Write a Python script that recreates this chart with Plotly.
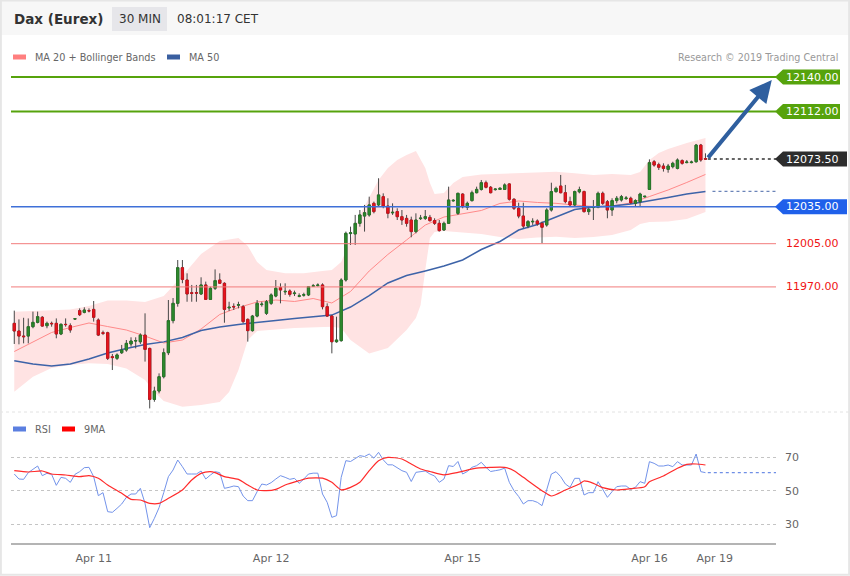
import plotly.graph_objects as go

# ---------------- data ----------------
opens = [11940.5, 11934.3, 11930.2, 11930.2, 11937.8, 11941.3, 11945.4, 11938.6, 11940.5, 11940.5,
         11931.9, 11939.7, 11938.6, 11944.0, 11950.8, 11949.4, 11950.8, 11951.8, 11943.2, 11932.9,
         11932.9, 11913.5, 11912.2, 11916.7, 11918.9, 11923.8, 11926.2, 11925.6, 11931.0, 11920.2,
         11878.9, 11885.7, 11897.3, 11916.7, 11942.7, 11956.7, 11985.6, 11975.6, 11965.3, 11965.3,
         11964.3, 11971.6, 11959.9, 11968.9, 11975.6, 11972.9, 11953.0, 11954.2, 11955.2, 11954.0,
         11943.7, 11934.6, 11946.4, 11955.7, 11948.6, 11956.7, 11962.6, 11969.4, 11966.0, 11966.7,
         11964.6, 11962.4, 11963.3, 11963.5, 11970.5, 11971.1, 11971.6, 11954.0, 11946.4, 11925.6,
         11926.5, 11975.6, 12013.2, 12012.9, 12021.5, 12027.4, 12028.3, 12037.7, 12036.4, 12043.1,
         12035.5, 12030.0, 12031.0, 12026.9, 12025.5, 12024.2, 12014.8, 12025.3, 12025.5, 12026.3,
         12023.7, 12021.5, 12016.1, 12021.5, 12039.7, 12029.6, 12045.2, 12034.5, 12039.9, 12046.3,
         12049.0, 12054.4, 12050.7, 12048.8, 12049.0, 12049.0, 12053.4, 12041.0, 12033.7, 12027.4,
         12019.3, 12022.7, 12023.4, 12021.5, 12020.2, 12032.3, 12047.2, 12051.7, 12046.3, 12039.1,
         12036.4, 12047.0, 12047.2, 12031.0, 12034.3, 12034.5, 12045.8, 12039.0, 12032.3, 12039.9,
         12040.4, 12041.6, 12041.8, 12037.7, 12039.0, 12043.0, 12049.0, 12071.4, 12069.0, 12067.9,
         12065.2, 12067.4, 12066.0, 12072.3, 12070.7, 12070.7, 12071.4, 12084.9, 12073.9]
highs = [11950.8, 11943.7, 11945.0, 11944.5, 11950.0, 11950.0, 11946.4, 11941.9, 11941.9, 11944.5,
         11940.5, 11944.5, 11940.5, 11944.5, 11952.6, 11953.5, 11952.6, 11958.6, 11944.5, 11934.6,
         11933.7, 11915.7, 11916.2, 11923.0, 11927.0, 11929.2, 11929.2, 11932.4, 11948.6, 11920.8,
         11889.2, 11900.0, 11920.2, 11959.4, 11961.0, 11991.8, 11991.8, 11981.0, 11971.6, 11971.6,
         11977.8, 11974.3, 11970.2, 11984.2, 11981.0, 11973.8, 11958.0, 11956.7, 11958.0, 11955.4,
         11944.5, 11947.3, 11959.4, 11958.0, 11959.4, 11964.8, 11975.6, 11972.9, 11972.9, 11968.0,
         11967.0, 11964.8, 11965.3, 11970.7, 11972.4, 11972.9, 11972.9, 11956.7, 11947.3, 11945.9,
         11977.0, 12014.8, 12018.8, 12028.3, 12032.3, 12036.4, 12043.1, 12039.1, 12058.0, 12045.8,
         12041.8, 12037.7, 12033.7, 12032.3, 12028.3, 12026.9, 12029.6, 12028.3, 12032.3, 12028.3,
         12025.6, 12024.2, 12022.9, 12051.2, 12041.0, 12046.3, 12045.8, 12039.1, 12048.0, 12051.2,
         12056.6, 12056.1, 12051.7, 12049.8, 12050.7, 12053.9, 12053.9, 12041.8, 12038.2, 12038.2,
         12024.2, 12025.6, 12024.7, 12022.9, 12033.7, 12054.4, 12051.2, 12060.7, 12052.6, 12043.1,
         12048.0, 12051.2, 12048.0, 12035.0, 12040.4, 12047.2, 12047.2, 12040.4, 12041.8, 12043.6,
         12044.5, 12043.6, 12043.1, 12041.0, 12046.3, 12043.6, 12073.3, 12072.8, 12070.6, 12070.1,
         12069.6, 12071.4, 12074.1, 12073.3, 12072.8, 12072.3, 12085.8, 12085.8, 12078.2]
lows = [11923.8, 11923.5, 11924.3, 11924.3, 11936.5, 11940.5, 11937.8, 11936.5, 11937.8, 11928.4,
        11931.0, 11937.8, 11932.9, 11943.5, 11946.4, 11948.6, 11949.4, 11941.9, 11930.2, 11931.0,
        11910.8, 11902.7, 11910.8, 11915.7, 11917.5, 11921.6, 11920.2, 11923.8, 11909.5, 11871.6,
        11877.0, 11883.8, 11895.9, 11914.8, 11940.5, 11954.0, 11973.0, 11958.0, 11958.0, 11958.0,
        11963.5, 11959.4, 11959.4, 11967.5, 11972.5, 11941.0, 11950.5, 11951.3, 11952.6, 11940.5,
        11925.7, 11933.8, 11945.4, 11954.0, 11947.3, 11955.4, 11961.6, 11956.7, 11963.5, 11962.1,
        11962.6, 11961.6, 11962.1, 11962.6, 11970.2, 11970.2, 11951.8, 11945.9, 11916.2, 11924.8,
        11925.6, 11974.3, 12004.0, 12004.0, 12018.8, 12014.8, 12026.9, 12029.6, 12035.0, 12033.7,
        12025.6, 12028.3, 12024.2, 12020.2, 12018.8, 12010.2, 12013.4, 12024.2, 12024.2, 12022.9,
        12020.2, 12014.8, 12015.6, 12021.0, 12039.1, 12028.3, 12033.7, 12032.3, 12039.1, 12045.8,
        12048.0, 12049.8, 12045.8, 12048.0, 12048.5, 12048.5, 12039.9, 12032.3, 12025.6, 12017.5,
        12017.5, 12020.2, 12019.6, 12005.3, 12018.8, 12031.0, 12046.3, 12045.8, 12037.7, 12035.0,
        12035.0, 12045.8, 12030.2, 12028.3, 12024.2, 12033.7, 12036.4, 12025.6, 12027.5, 12037.7,
        12039.1, 12040.4, 12037.2, 12035.5, 12035.0, 12042.3, 12048.5, 12067.4, 12064.7, 12063.4,
        12062.5, 12066.0, 12065.2, 12069.0, 12070.1, 12070.1, 12070.6, 12071.4, 12072.8]
closes = [11934.3, 11930.2, 11929.7, 11937.8, 11941.3, 11945.9, 11938.3, 11940.5, 11940.2, 11931.9,
          11939.7, 11939.5, 11935.1, 11944.2, 11947.5, 11951.3, 11950.6, 11945.4, 11931.0, 11932.4,
          11912.2, 11912.8, 11914.9, 11918.9, 11924.3, 11926.2, 11926.5, 11931.0, 11919.4, 11878.9,
          11885.7, 11897.3, 11916.7, 11942.7, 11956.7, 11985.6, 11976.1, 11964.3, 11964.8, 11965.0,
          11971.6, 11959.9, 11968.9, 11975.1, 11973.0, 11951.8, 11953.5, 11953.8, 11955.6, 11941.9,
          11934.6, 11946.4, 11956.7, 11956.0, 11958.0, 11963.5, 11968.9, 11967.5, 11966.4, 11964.0,
          11965.0, 11962.8, 11963.7, 11970.2, 11970.9, 11971.5, 11954.0, 11946.4, 11925.6, 11927.0,
          11975.6, 12013.4, 12013.8, 12021.5, 12028.3, 12030.1, 12036.4, 12031.0, 12044.5, 12035.5,
          12029.6, 12030.4, 12026.9, 12024.2, 12021.5, 12014.8, 12024.2, 12025.7, 12026.9, 12023.7,
          12021.5, 12015.6, 12021.5, 12040.4, 12040.1, 12045.8, 12035.0, 12037.7, 12046.3, 12049.0,
          12054.4, 12050.7, 12046.3, 12049.2, 12049.8, 12052.6, 12041.0, 12033.7, 12027.4, 12019.3,
          12022.9, 12023.1, 12021.0, 12018.3, 12032.3, 12047.2, 12049.8, 12046.3, 12039.1, 12036.4,
          12047.2, 12048.8, 12031.0, 12032.8, 12034.7, 12045.8, 12037.7, 12032.3, 12039.9, 12041.8,
          12043.1, 12042.0, 12038.2, 12039.9, 12045.2, 12043.4, 12070.6, 12068.7, 12066.9, 12066.0,
          12067.9, 12070.1, 12072.8, 12070.1, 12071.1, 12071.1, 12084.9, 12072.8, 12073.5]

# moving averages sampled every 4 bars
ma_idx = list(range(0, 149, 4))
ma20 = [11917.7, 11925.6, 11933.1, 11937.1, 11940.8, 11937.9, 11935.1, 11930.2, 11924.6, 11927.0,
        11935.9, 11947.7, 11953.3, 11957.8, 11959.4, 11958.2, 11960.6, 11957.0, 11966.3, 11982.9,
        11996.3, 12008.0, 12020.1, 12026.6, 12029.1, 12031.9, 12037.6, 12039.6, 12038.4, 12037.7,
        12036.3, 12035.1, 12035.5, 12038.0, 12043.2, 12048.5, 12054.6, 12061.1]
ma50 = [11910.2, 11907.6, 11905.9, 11907.6, 11911.6, 11916.5, 11920.1, 11923.4, 11925.5, 11929.0,
        11934.7, 11937.5, 11939.6, 11940.9, 11942.8, 11944.4, 11946.0, 11947.2, 11953.7, 11963.0,
        11973.2, 11979.2, 11982.9, 11986.9, 11991.8, 12000.3, 12006.8, 12016.1, 12020.6, 12026.6,
        12032.7, 12034.7, 12035.5, 12037.2, 12039.6, 12042.4, 12045.3, 12047.3]

bb_up_idx = [0, 4, 8, 12, 16, 20, 24, 28, 32, 36, 40, 44, 48, 50, 52, 54, 58, 62, 66, 68,
             70, 72, 74, 76, 78, 80, 82, 84, 86, 88, 89, 90, 92, 94, 96, 100, 104, 108, 112, 116,
             120, 124, 128, 132, 134, 136, 138, 140, 144, 148]
bb_up = [11949.9, 11950.7, 11951.3, 11951.7, 11954.5, 11959.0, 11959.0, 11957.8, 11962.6, 11978.8,
         11996.7, 12007.2, 12009.6, 12003.1, 11990.2, 11983.7, 11981.0, 11981.0, 11982.9, 11983.7,
         11990.2, 12008.0, 12028.2, 12042.0, 12056.6, 12066.3, 12072.8, 12076.8, 12080.1, 12066.3,
         12054.2, 12045.3, 12046.1, 12054.2, 12059.0, 12061.1, 12061.5, 12062.0, 12062.5, 12063.3,
         12062.0, 12060.6, 12061.5, 12060.6, 12063.1, 12072.8, 12078.5, 12081.7, 12086.6, 12090.6]
bb_lo_idx = [0, 4, 8, 12, 16, 20, 24, 28, 30, 32, 36, 40, 44, 46, 48, 50, 52, 56, 60, 64,
             68, 70, 72, 76, 80, 84, 86, 87, 88, 89, 90, 92, 96, 100, 104, 108, 112, 116, 120, 124,
             128, 132, 134, 136, 140, 144, 148]
bb_lo = [11885.1, 11897.3, 11904.3, 11906.7, 11908.1, 11907.6, 11903.9, 11894.6, 11884.9, 11877.6,
         11873.0, 11874.3, 11876.8, 11884.9, 11902.7, 11927.0, 11934.3, 11935.5, 11936.7, 11937.5,
         11937.8, 11936.7, 11927.0, 11916.1, 11920.5, 11935.1, 11944.8, 11955.3, 11983.7, 12009.6,
         12014.5, 12015.3, 12014.1, 12012.9, 12010.4, 12008.8, 12010.0, 12010.7, 12009.6, 12010.4,
         12012.0, 12016.1, 12021.0, 12022.6, 12023.0, 12025.0, 12030.7]

rsi = [60, 57, 56.8, 60.8, 62.8, 64.8, 59, 60.4, 59.8, 53.2, 58, 57.4, 55, 59.8, 61.4, 63.8, 64,
       58.4, 47, 48.8, 37.4, 37, 39.4, 42, 46, 48, 48, 51.4, 42.4, 27.8, 33.4, 39.8, 48.8, 58.4,
       62.4, 68.4, 64.4, 60, 60, 60, 61.8, 57, 59.4, 61.4, 60.8, 51.4, 52, 52.8, 52.4, 46.8, 44,
       44, 49.4, 54, 53.4, 54.8, 57, 59, 58, 56.8, 57.4, 54.4,
       57, 60, 60.5, 60.5, 48, 43, 34, 35, 58, 68, 67.5, 69.5, 71, 70.5, 72, 69.5, 73, 68.5,
       65.5, 65.5, 63.5, 62, 61, 55.5, 61, 61.5, 61.8, 60, 58.8, 55, 57, 65, 64.5, 67.5, 60,
       61.5, 64, 65, 67, 64, 61.5, 62, 62.5, 63.5, 55, 50, 46.5, 42, 44, 44, 43, 41, 51,
       60, 61.4, 58.4, 54, 52, 57.4, 57.4, 47.4, 48.8, 48.8, 55.4, 50.8, 46, 49.4, 52.4, 52.8,
       52.8, 50.8, 52, 55.4, 54.4, 67.4, 66.4, 64.8, 64.8, 65.4, 64.4, 67.4, 65.4, 65.4, 65.4,
       72, 61.4, 60.8]
ma9_idx = [0, 3, 6, 8, 11, 14, 16, 18, 20, 23, 25, 27, 29, 31, 33, 36, 38, 40, 42, 43,
           45, 48, 50, 52, 54, 56, 58, 61, 63, 66, 68, 70, 72, 74, 76, 78, 80, 83, 85, 87,
           89, 92, 95, 99, 102, 105, 107, 109, 113, 115, 118, 121, 122, 124, 126, 129, 132, 135, 136, 139,
           142, 144, 146, 148]
ma9 = [62, 61.2, 61.8, 60, 59.4, 58.4, 59, 57.4, 53.4, 48.4, 44.8, 44.4, 42.4, 42.4, 45.4, 50.4,
       56.4, 60.4, 61.4, 60.8, 58.4, 56.8, 53.4, 50.4, 50, 50.8, 53.4, 56, 57.5, 57.5, 55, 50.5,
       52, 55, 62, 68, 70, 69, 66, 63, 61.5, 59.5, 61, 63.5, 64, 64, 62, 58, 50, 46.8, 50.4, 54,
       55.8, 54.4, 51.8, 50.4, 51.2, 52.4, 55.4, 58.8, 63.4, 65.8, 66, 65.4]

green_levels = [12140, 12112]
blue_level = 12035
red_levels = [12005, 11970]
last_price = 12073.5
target_price = 12140
tick_idx = [17, 55, 96, 136, 150]
tick_text = ["Apr 11", "Apr 12", "Apr 15", "Apr 16", "Apr 19"]

# ---------------- layout geometry (pixels) ----------------
W, H = 850, 576
PL, PR = 11, 776
MAIN_TOP, MAIN_BOT = 68, 412
RSI_TOP, RSI_BOT = 440, 543
X_RANGE = [-0.7, 163.1]
Y_RANGE = [11868.7, 12147.3]
RSI_RANGE = [18.6, 80.4]
PPX = (Y_RANGE[1] - Y_RANGE[0]) / (MAIN_BOT - MAIN_TOP)  # price per pixel
FONT = "DejaVu Sans"
GREEN_C, RED_C, WICK_C = "#2e8b2e", "#e8141c", "#474747"

def px(x):
    return x / W

def py(y):
    return 1 - y / H

N = len(closes)
idx = list(range(N))
body_hi = [max(o, c) for o, c in zip(opens, closes)]
body_lo = [min(o, c) for o, c in zip(opens, closes)]

fig = go.Figure()

# Bollinger band fill + moving averages (base price axis, drawn underneath)
fig.add_trace(go.Scatter(
    x=bb_up_idx + bb_lo_idx[::-1], y=bb_up + bb_lo[::-1],
    fill="toself", fillcolor="#ffe3e3", line=dict(width=0), mode="lines",
    hoverinfo="skip", showlegend=False, xaxis="x", yaxis="y"))
fig.add_trace(go.Scatter(x=ma_idx, y=ma20, mode="lines",
                         line=dict(color="#ff8a8a", width=1), showlegend=False,
                         xaxis="x", yaxis="y"))
fig.add_trace(go.Scatter(x=ma_idx, y=ma50, mode="lines",
                         line=dict(color="#3d63a8", width=1.5), showlegend=False,
                         xaxis="x", yaxis="y"))
# candles: wicks layer, then coloured bodies on top (overlaying axes)
fig.add_trace(go.Candlestick(
    x=idx, open=opens, high=highs, low=lows, close=closes,
    increasing=dict(fillcolor=GREEN_C, line=dict(color=WICK_C, width=1)),
    decreasing=dict(fillcolor=RED_C, line=dict(color=WICK_C, width=1)),
    whiskerwidth=0, showlegend=False, xaxis="x", yaxis="y3"))
fig.add_trace(go.Candlestick(
    x=idx, open=opens, high=body_hi, low=body_lo, close=closes,
    increasing=dict(fillcolor=GREEN_C, line=dict(color="#267a26", width=0.8)),
    decreasing=dict(fillcolor=RED_C, line=dict(color="#d0101a", width=0.8)),
    whiskerwidth=0, showlegend=False, xaxis="x", yaxis="y4"))

# RSI panel
fig.add_trace(go.Scatter(x=idx, y=rsi, mode="lines",
                         line=dict(color="#7393ea", width=1), showlegend=False,
                         xaxis="x2", yaxis="y2"))
fig.add_trace(go.Scatter(x=ma9_idx, y=ma9, mode="lines",
                         line=dict(color="#ff2b2b", width=1.2, shape="spline", smoothing=0.6),
                         showlegend=False, xaxis="x2", yaxis="y2"))

shapes = []
annotations = []

# frame / header
shapes.append(dict(type="rect", xref="paper", yref="paper", x0=0, x1=1, y0=py(35), y1=1,
                   fillcolor="#f7f7f7", line=dict(width=0), layer="below"))
shapes.append(dict(type="rect", xref="paper", yref="paper", x0=px(112), x1=px(167),
                   y0=py(31), y1=py(7), fillcolor="#e6e6ea", line=dict(width=0), layer="below"))
shapes.append(dict(type="line", xref="paper", yref="paper", x0=0, x1=1, y0=py(412), y1=py(412),
                   line=dict(color="#e2e2e2", width=1, dash="dot")))
shapes.append(dict(type="rect", xref="paper", yref="paper", x0=0.001, x1=0.999, y0=0.002, y1=0.999,
                   line=dict(color="#e6e6e6", width=2)))

annotations += [
    dict(text="<b>Dax (Eurex)</b>", x=px(12), y=py(18.5), xref="paper", yref="paper",
         xanchor="left", yanchor="middle", showarrow=False, font=dict(family=FONT, size=13.5, color="#333")),
    dict(text="30 MIN", x=px(139.5), y=py(19), xref="paper", yref="paper",
         xanchor="center", yanchor="middle", showarrow=False, font=dict(family=FONT, size=12, color="#333")),
    dict(text="08:01:17 CET", x=px(175), y=py(19), xref="paper", yref="paper",
         xanchor="left", yanchor="middle", showarrow=False, font=dict(family=FONT, size=12, color="#333")),
    dict(text="MA 20 + Bollinger Bands", x=px(33), y=py(57), xref="paper", yref="paper",
         xanchor="left", yanchor="middle", showarrow=False, font=dict(family=FONT, size=9.7, color="#666")),
    dict(text="MA 50", x=px(187), y=py(57), xref="paper", yref="paper",
         xanchor="left", yanchor="middle", showarrow=False, font=dict(family=FONT, size=9.7, color="#666")),
    dict(text="Research © 2019 Trading Central", x=px(840), y=py(57), xref="paper", yref="paper",
         xanchor="right", yanchor="middle", showarrow=False, font=dict(family=FONT, size=9.6, color="#999")),
    dict(text="RSI", x=px(33), y=py(429), xref="paper", yref="paper",
         xanchor="left", yanchor="middle", showarrow=False, font=dict(family=FONT, size=9.7, color="#666")),
    dict(text="9MA", x=px(82), y=py(429), xref="paper", yref="paper",
         xanchor="left", yanchor="middle", showarrow=False, font=dict(family=FONT, size=9.7, color="#666")),
]
for (x0, x1, yc, col) in [(13, 26, 57, "#ff7f7f"), (167, 180, 57, "#3a5fa0"),
                          (13, 26, 429, "#5b7fe0"), (62, 75, 429, "#ff0000")]:
    shapes.append(dict(type="rect", xref="paper", yref="paper", x0=px(x0), x1=px(x1),
                       y0=py(yc + 2.5), y1=py(yc - 2.5), fillcolor=col, line=dict(width=0)))

def flag(price, color, right):
    h = 7.5 * PPX
    path = (f"M {px(775)},{price} L {px(783)},{price + h} L {px(right)},{price + h} "
            f"L {px(right)},{price - h} L {px(783)},{price - h} Z")
    shapes.append(dict(type="path", xref="paper", yref="y", path=path,
                       fillcolor=color, line=dict(width=0)))

def label(price, text, color):
    annotations.append(dict(text=text, x=px(812), y=price, xref="paper", yref="y",
                            xanchor="center", yanchor="middle", showarrow=False,
                            font=dict(family=FONT, size=11, color=color)))

for lv in green_levels:
    shapes.append(dict(type="line", xref="paper", yref="y", x0=px(PL), x1=px(776), y0=lv, y1=lv,
                       line=dict(color="#56a30c", width=2)))
    flag(lv, "#56a30c", 840)
    label(lv, f"{lv:.2f}", "white")

shapes.append(dict(type="line", xref="paper", yref="y", x0=px(PL), x1=px(776),
                   y0=blue_level, y1=blue_level, line=dict(color="#3f70d8", width=1.5)))
flag(blue_level, "#1f60ea", 847)
label(blue_level, f"{blue_level:.2f}", "white")

for lv in red_levels:
    shapes.append(dict(type="line", xref="paper", yref="y", x0=px(PL), x1=px(776), y0=lv, y1=lv,
                       line=dict(color="#f27c7c", width=1)))
    label(lv, f"{lv:.2f}", "#f01414")

# last price dotted + label
shapes.append(dict(type="line", xref="x", yref="y", x0=N - 0.5, x1=X_RANGE[1], y0=last_price,
                   y1=last_price, line=dict(color="#333", width=1.5, dash="dot")))
flag(last_price, "#2d2d2d", 847)
label(last_price, f"{last_price:.2f}", "white")

# MA50 projection (dotted)
shapes.append(dict(type="line", xref="x", yref="y", x0=N + 0.5, x1=X_RANGE[1], y0=ma50[-1],
                   y1=ma50[-1], line=dict(color="#6b84b8", width=1.2, dash="dot")))
# RSI projection (dotted)
shapes.append(dict(type="line", xref="x2", yref="y2", x0=N - 0.5, x1=X_RANGE[1], y0=rsi[-1],
                   y1=rsi[-1], line=dict(color="#6f8fe6", width=1.2, dash="dot")))

# target arrow
annotations.append(dict(x=162.2, y=target_price - 2.5, xref="x", yref="y",
                        ax=N - 0.7, ay=last_price, axref="x", ayref="y",
                        text="", showarrow=True, arrowhead=2, arrowsize=1.1,
                        arrowwidth=4, arrowcolor="#2f5f9f"))

fig.update_layout(
    width=W, height=H, template="none",
    margin=dict(l=0, r=0, t=0, b=0),
    paper_bgcolor="white", plot_bgcolor="rgba(0,0,0,0)",
    showlegend=False, hovermode=False,
    font=dict(family=FONT, color="#666"),
    xaxis=dict(domain=[px(PL), px(PR)], range=X_RANGE, visible=False,
               rangeslider=dict(visible=False), anchor="y"),
    yaxis=dict(domain=[py(MAIN_BOT), py(MAIN_TOP)], range=Y_RANGE, visible=False, anchor="x"),
    yaxis3=dict(range=Y_RANGE, visible=False, overlaying="y", anchor="x"),
    yaxis4=dict(range=Y_RANGE, visible=False, overlaying="y", anchor="x"),
    xaxis2=dict(domain=[px(PL), px(PR)], range=X_RANGE, anchor="y2",
                showline=True, linecolor="#b4b4b4", linewidth=2,
                tickvals=tick_idx, ticktext=tick_text, ticks="", showgrid=False, zeroline=False,
                tickfont=dict(family=FONT, size=11, color="#666"), ticklabelstandoff=4),
    yaxis2=dict(domain=[py(RSI_BOT), py(RSI_TOP)], range=RSI_RANGE, anchor="x2", side="right",
                tickvals=[30, 50, 70], ticks="", showgrid=True, gridcolor="#c4c4c4",
                griddash="dot", gridwidth=1, zeroline=False, showline=False,
                tickfont=dict(family=FONT, size=11, color="#666"), ticklabelstandoff=8),
    shapes=shapes, annotations=annotations,
)

fig.write_html("out.html", config={"displayModeBar": False, "staticPlot": True},
               post_script="document.body.style.margin='0px';document.body.style.overflow='hidden';")
